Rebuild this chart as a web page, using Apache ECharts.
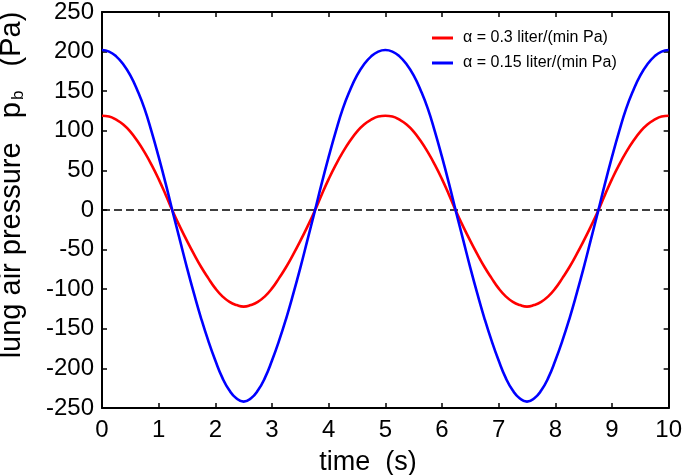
<!DOCTYPE html>
<html>
<head>
<meta charset="utf-8">
<script src="https://cdn.jsdelivr.net/npm/echarts@6/dist/echarts.min.js"></script>
<style>html,body{margin:0;padding:0;background:#fff}#c{width:685px;height:475px}</style>
</head>
<body>
<div id="c"></div>
<script>
// sample times (s)
var time = [0,0.125,0.25,0.375,0.5,0.625,0.75,0.875,1,1.125,1.25,1.375,1.5,1.625,1.75,1.875,2,2.125,2.25,2.375,2.5,
            2.625,2.75,2.875,3,3.125,3.25,3.375,3.5,3.625,3.75,3.875,4,4.125,4.25,4.375,4.5,4.625,4.75,4.875,5,
            5.125,5.25,5.375,5.5,5.625,5.75,5.875,6,6.125,6.25,6.375,6.5,6.625,6.75,6.875,7,7.125,7.25,7.375,7.5,
            7.625,7.75,7.875,8,8.125,8.25,8.375,8.5,8.625,8.75,8.875,9,9.125,9.25,9.375,9.5,9.625,9.75,9.875,10];
// alpha = 0.3 liter/(min Pa)
var pRed = [119,118,114,108,99,87,73,57,39,19,-2,-21,-39,-56,-72,-86,-99,-109,-116,-120,-122,
            -120,-116,-109,-99,-86,-72,-56,-39,-21,-2,19,39,57,73,87,99,108,114,118,119,
            118,114,108,99,87,73,57,39,19,-2,-21,-39,-56,-72,-86,-99,-109,-116,-120,-122,
            -120,-116,-109,-99,-86,-72,-56,-39,-21,-2,19,39,57,73,87,99,108,114,118,119];
// alpha = 0.15 liter/(min Pa)
var pBlue = [202,200,194,184,170,151,128,99,67,33,-3,-38,-73,-106,-137,-165,-190,-212,-228,-238,-242,
             -238,-228,-212,-190,-165,-137,-106,-73,-38,-3,33,67,99,128,151,170,184,194,200,202,
             200,194,184,170,151,128,99,67,33,-3,-38,-73,-106,-137,-165,-190,-212,-228,-238,-242,
             -238,-228,-212,-190,-165,-137,-106,-73,-38,-3,33,67,99,128,151,170,184,194,200,202];
var zeroLine = [[0,0],[10,0]];
var seriesNames = ['\u03b1 = 0.3 liter/(min Pa)', '\u03b1 = 0.15 liter/(min Pa)'];
var xTitle = 'time  (s)';
var yTitleMain = 'lung air pressure   p';
var yTitleSub = 'b';
var yTitleEnd = '   (Pa)';

function pairs(xs, ys){ return xs.map(function(x,i){ return [x, ys[i]]; }); }

var FONT = '"Liberation Sans", Arial, Helvetica, sans-serif';
var chart = echarts.init(document.getElementById('c'), null, {renderer:'canvas'});
var axisCommon = {
  type:'value',
  axisLine:{show:true, onZero:false, lineStyle:{color:'#000', width:2}},
  axisTick:{show:true, inside:true, length:5, lineStyle:{color:'#000', width:1.5}},
  splitLine:{show:false}
};
chart.setOption({
  animation:false,
  backgroundColor:'#fff',
  grid:{left:102, right:16, top:8, bottom:67, containLabel:false},
  xAxis:[
    Object.assign({}, axisCommon, {min:0, max:10, interval:1, position:'bottom',
      axisLabel:{show:true, margin:10, color:'#000', fontSize:24, fontFamily:FONT}}),
    Object.assign({}, axisCommon, {min:0, max:10, interval:1, position:'top',
      axisLabel:{show:false}})
  ],
  yAxis:[
    Object.assign({}, axisCommon, {min:-250, max:250, interval:50, position:'left',
      axisLabel:{show:true, margin:8, color:'#000', fontSize:24, fontFamily:FONT}}),
    Object.assign({}, axisCommon, {min:-250, max:250, interval:50, position:'right',
      axisLabel:{show:false}})
  ],
  legend:{
    data:[
      {name:seriesNames[0], icon:'rect', itemStyle:{color:'#ff0000'}},
      {name:seriesNames[1], icon:'rect', itemStyle:{color:'#0000ff'}}
    ],
    orient:'vertical',
    left:432, top:30, padding:0,
    itemWidth:21, itemHeight:3, itemGap:9,
    textStyle:{fontSize:16, lineHeight:16, fontFamily:FONT, color:'#000', padding:[0,0,0,5]},
    selectedMode:false
  },
  series:[
    {name:'zero', type:'line', data:zeroLine, symbol:'none', silent:true,
     lineStyle:{color:'#000', width:1.3, type:[8,4]}, z:1},
    {name:seriesNames[0], type:'line', data:pairs(time,pRed), symbol:'none', smooth:true,
     lineStyle:{color:'#ff0000', width:2.6}, itemStyle:{color:'#ff0000'}, z:3},
    {name:seriesNames[1], type:'line', data:pairs(time,pBlue), symbol:'none', smooth:true,
     lineStyle:{color:'#0000ff', width:2.6}, itemStyle:{color:'#0000ff'}, z:4}
  ],
  graphic:[
    {type:'text', x:368, y:463,
     style:{text:xTitle, font:'27px ' + FONT, fill:'#000', align:'center', verticalAlign:'middle'}},
    {type:'text', x:12, y:185, rotation:Math.PI/2,
     style:{text:'{n|' + yTitleMain + '}{s|' + yTitleSub + '}{n|' + yTitleEnd + '}',
       align:'center', verticalAlign:'middle', fill:'#000',
       rich:{
         n:{fontSize:29, fontFamily:FONT, lineHeight:29, fill:'#000'},
         s:{fontSize:17, fontFamily:FONT, lineHeight:17, padding:[12,0,0,2], fill:'#000'}
       }}}
  ]
});
</script>
</body>
</html>
